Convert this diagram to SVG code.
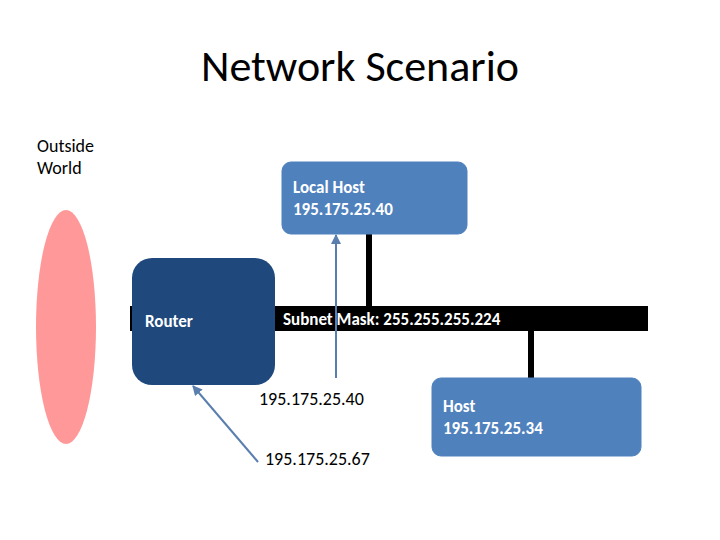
<svg xmlns="http://www.w3.org/2000/svg" width="720" height="540" viewBox="0 0 720 540">
<style>
text{font-family:Calibri,Carlito,"Liberation Sans",sans-serif}
.b{font-weight:bold;fill:#fff;font-size:17px}
.n{font-size:18px;fill:#000}
.box{fill:#4f81bd;stroke:#4f81bd}
.arr{stroke:#5a7fae;stroke-width:2;fill:none;marker-end:url(#ah)}
</style>
<defs><marker id="ah" viewBox="0 0 10 10" refX="9" refY="5" markerWidth="5" markerHeight="5" orient="auto"><path d="M0,0L10,5L0,10z" fill="#5a7fae"/></marker></defs>
<rect width="720" height="540" fill="#fff"/>
<text x="360" y="81" text-anchor="middle" font-size="44" fill="#000">Network Scenario</text>
<g id="outside"><ellipse cx="66" cy="327" rx="30" ry="117" fill="#ff9999"/>
<text x="37" y="152" class="n">Outside</text><text x="37" y="174" class="n">World</text></g>
<g id="connectors">
<rect x="130" y="306" width="518" height="25" fill="#000"/>
<rect x="366" y="234" width="6" height="72" fill="#000"/>
<rect x="528" y="331" width="6" height="47" fill="#000"/>
<line class="arr" x1="336" y1="378" x2="336" y2="235"/>
<line class="arr" x1="258" y1="462" x2="193" y2="386"/>
</g>
<g id="subnet"><text x="283" y="325" class="b">Subnet Mask: 255.255.255.224</text></g>
<g id="router"><rect x="132" y="258" width="143" height="127" rx="20" fill="#1f497d"/>
<text x="145" y="327" class="b">Router</text></g>
<g id="localhost"><rect class="box" x="282" y="162" width="185" height="72" rx="9"/>
<text x="293" y="193" class="b">Local Host</text><text x="293" y="215" class="b">195.175.25.40</text></g>
<g id="host"><rect class="box" x="432" y="378" width="209" height="78" rx="9"/>
<text x="443" y="412" class="b">Host</text><text x="443" y="434" class="b">195.175.25.34</text></g>
<text x="259" y="405" class="n">195.175.25.40</text>
<text x="265" y="465" class="n">195.175.25.67</text>
</svg>
